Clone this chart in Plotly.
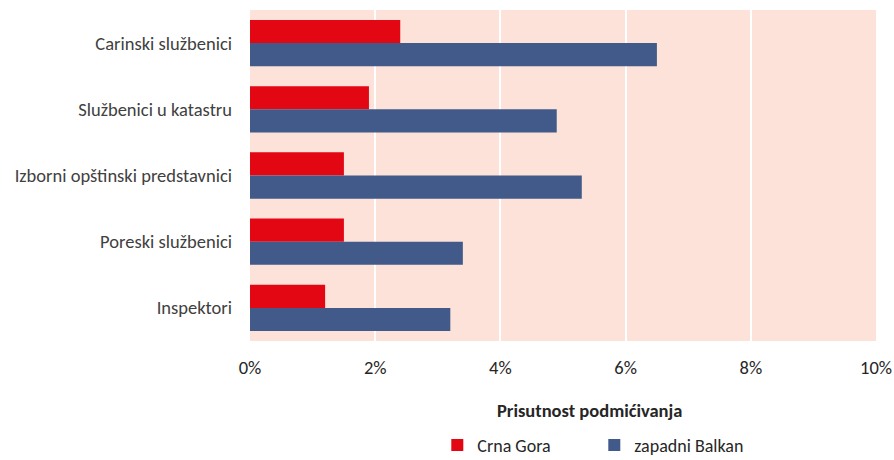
import plotly.graph_objects as go

categories = ["Carinski službenici", "Službenici u katastru", "Izborni opštinski predstavnici", "Poreski službenici", "Inspektori"]
crna_gora = [2.4, 1.9, 1.5, 1.5, 1.2]
zapadni_balkan = [6.5, 4.9, 5.3, 3.4, 3.2]
tick_vals = [0, 2, 4, 6, 8, 10]
tick_text = ["0%", "2%", "4%", "6%", "8%", "10%"]

font_family = "Carlito, Calibri, 'Open Sans', 'Liberation Sans', sans-serif"

fig = go.Figure()
fig.add_trace(go.Bar(y=categories, x=crna_gora, orientation="h", name="Crna Gora",
                     marker=dict(color="#E30613", line=dict(width=0))))
fig.add_trace(go.Bar(y=categories, x=zapadni_balkan, orientation="h", name="zapadni Balkan",
                     marker=dict(color="#415A8A", line=dict(width=0))))

fig.update_layout(
    width=894, height=460,
    margin=dict(l=250, r=18, t=10, b=119, autoexpand=False),
    barmode="group", bargap=0.3, bargroupgap=0,
    plot_bgcolor="#FCE2D8", paper_bgcolor="white",
    font=dict(family=font_family, size=18.5, color="#262626"),
    xaxis=dict(range=[0, 10], tickvals=tick_vals, ticktext=tick_text,
               showgrid=True, gridcolor="white", gridwidth=2, zeroline=False,
               tickfont=dict(size=18.5, color="#262626"), ticks="", ticklabelstandoff=13),
    yaxis=dict(autorange="reversed", showgrid=False, ticks="",
               tickfont=dict(size=18.5, color="#404040"), ticklabelstandoff=17),
    legend=dict(orientation="h", xanchor="center", x=0.55, yref="container", yanchor="middle", y=0.032,
                font=dict(size=18, color="#262626"), entrywidth=112, itemwidth=30,
                traceorder="normal"),
    annotations=[dict(text="<b>Prisutnost podmićivanja</b>", xref="paper", yref="paper",
                      x=0.543, y=-0.21, xanchor="center", yanchor="middle", showarrow=False,
                      font=dict(size=18.5, color="#262626"))],
)

fig.write_html("out.html")
